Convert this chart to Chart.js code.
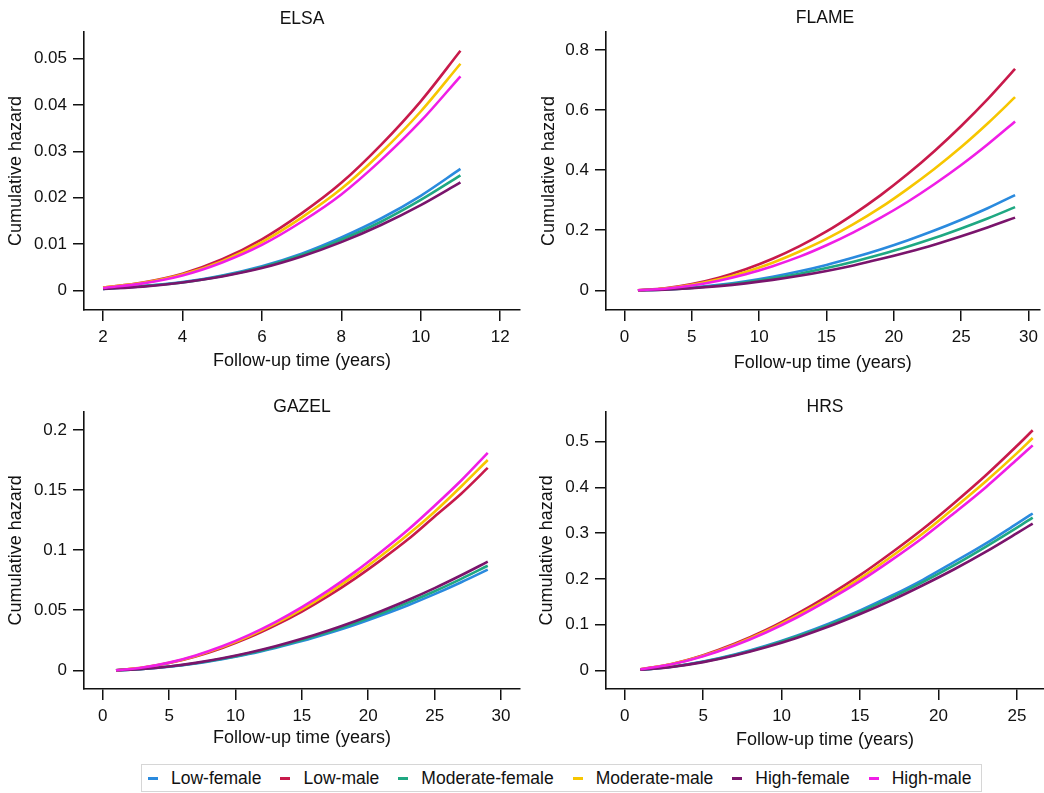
<!DOCTYPE html>
<html>
<head>
<meta charset="utf-8">
<title>Cumulative hazard by cohort</title>
<script src="https://cdn.jsdelivr.net/npm/chart.js@4.4.0/dist/chart.umd.min.js"></script>
<style>
	body { margin: 0; background: #fff; font-family: "Liberation Sans", Arial, sans-serif; }
	#page { position: relative; width: 1044px; height: 793px; overflow: hidden; background: #fff; }
	#page canvas { position: absolute; }
	.panel-title { position: absolute; font-size: 17.5px; line-height: 20px; text-align: center; color: #111; }
	#legend {
		position: absolute; left: 141px; top: 764px; width: 841px; height: 28px;
		box-sizing: border-box; border: 1px solid #d6d6d6;
		display: flex; align-items: center; padding-left: 6px;
		font-size: 17.5px; color: #111; white-space: nowrap;
	}
	.legend-item { display: flex; align-items: center; margin-right: 19px; }
	.legend-swatch { width: 10px; height: 3px; margin-right: 13px; }
</style>
</head>
<body>
<div id="page">
	<div id="legend"></div>
</div>
<script>
// 그룹 이름 / 색
const seriesNames = ['Low-female', 'Low-male', 'Moderate-female', 'Moderate-male', 'High-female', 'High-male'];
const seriesColors = ['#2a8ade', '#c81a4b', '#1fa882', '#f7c600', '#7a146c', '#f01ee6'];

// --- ELSA ---
const elsaTime = [2, 3, 4, 5, 6, 7, 8, 9, 10, 11];
const elsaLowFemale = [0.0003, 0.0009, 0.0018, 0.0032, 0.0052, 0.0079, 0.0114, 0.0155, 0.0204, 0.0262];
const elsaLowMale = [0.0006, 0.0017, 0.0036, 0.0067, 0.0110, 0.0166, 0.0232, 0.0314, 0.0408, 0.0517];
const elsaModFemale = [0.0003, 0.0009, 0.0017, 0.0031, 0.0050, 0.0076, 0.0109, 0.0148, 0.0195, 0.0248];
const elsaModMale = [0.0006, 0.0016, 0.0034, 0.0063, 0.0104, 0.0157, 0.0219, 0.0297, 0.0386, 0.0489];
const elsaHighFemale = [0.0003, 0.0008, 0.0017, 0.0030, 0.0048, 0.0073, 0.0104, 0.0141, 0.0184, 0.0233];
const elsaHighMale = [0.0005, 0.0015, 0.0032, 0.0060, 0.0098, 0.0148, 0.0207, 0.0281, 0.0365, 0.0462];
const elsaXTicks = [2, 4, 6, 8, 10, 12];
const elsaYTicks = [0, 0.01, 0.02, 0.03, 0.04, 0.05];

// --- FLAME ---
const flameTime = [1, 3, 5, 7, 9, 11, 13, 15, 17, 19, 21, 23, 25, 27, 29];
const flameLowFemale = [0, 0.0030, 0.0090, 0.0181, 0.0302, 0.0452, 0.0633, 0.0845, 0.109, 0.136, 0.166, 0.199, 0.235, 0.274, 0.317];
const flameLowMale = [0, 0.0070, 0.0210, 0.0421, 0.0702, 0.105, 0.147, 0.196, 0.253, 0.316, 0.386, 0.463, 0.547, 0.638, 0.737];
const flameModFemale = [0, 0.0026, 0.0079, 0.0158, 0.0264, 0.0396, 0.0554, 0.0739, 0.0950, 0.119, 0.145, 0.174, 0.206, 0.240, 0.277];
const flameModMale = [0, 0.0061, 0.0184, 0.0367, 0.0612, 0.0918, 0.129, 0.171, 0.220, 0.275, 0.337, 0.404, 0.477, 0.557, 0.643];
const flameHighFemale = [0, 0.0023, 0.0069, 0.0138, 0.0230, 0.0346, 0.0484, 0.0645, 0.0829, 0.104, 0.127, 0.152, 0.180, 0.210, 0.242];
const flameHighMale = [0, 0.0054, 0.0161, 0.0321, 0.0535, 0.0803, 0.112, 0.150, 0.193, 0.241, 0.294, 0.353, 0.417, 0.487, 0.562];
const flameXTicks = [0, 5, 10, 15, 20, 25, 30];
const flameYTicks = [0, 0.2, 0.4, 0.6, 0.8];

// --- GAZEL ---
const gazelTime = [1, 3, 5, 7, 9, 11, 13, 15, 17, 19, 21, 23, 25, 27, 29];
const gazelLowFemale = [0, 0.0011, 0.0030, 0.0057, 0.0093, 0.0135, 0.0186, 0.0243, 0.0308, 0.0379, 0.0458, 0.0542, 0.0634, 0.0733, 0.0838];
const gazelLowMale = [0, 0.0021, 0.0060, 0.0115, 0.0186, 0.0272, 0.0374, 0.0489, 0.0619, 0.0763, 0.0921, 0.109, 0.128, 0.147, 0.1685];
const gazelModFemale = [0, 0.0011, 0.0031, 0.0059, 0.0096, 0.0141, 0.0193, 0.0252, 0.0319, 0.0394, 0.0475, 0.0563, 0.0658, 0.0761, 0.0870];
const gazelModMale = [0, 0.0022, 0.0062, 0.0120, 0.0193, 0.0283, 0.0388, 0.0508, 0.0643, 0.0792, 0.0956, 0.113, 0.132, 0.153, 0.175];
const gazelHighFemale = [0, 0.0011, 0.0032, 0.0062, 0.0100, 0.0146, 0.0200, 0.0262, 0.0332, 0.0409, 0.0494, 0.0585, 0.0684, 0.0791, 0.0904];
const gazelHighMale = [0, 0.0023, 0.0064, 0.0124, 0.0200, 0.0293, 0.0401, 0.0525, 0.0665, 0.0819, 0.0989, 0.117, 0.137, 0.158, 0.181];
const gazelXTicks = [0, 5, 10, 15, 20, 25, 30];
const gazelYTicks = [0, 0.05, 0.1, 0.15, 0.2];

// --- HRS ---
const hrsTime = [1, 3, 5, 7, 9, 11, 13, 15, 17, 19, 21, 23, 25, 26];
const hrsLowFemale = [0.0011, 0.0078, 0.0192, 0.0345, 0.0537, 0.0763, 0.102, 0.131, 0.163, 0.198, 0.237, 0.277, 0.321, 0.343];
const hrsLowMale = [0.0022, 0.0139, 0.0329, 0.0579, 0.0882, 0.124, 0.164, 0.208, 0.257, 0.309, 0.366, 0.426, 0.491, 0.525];
const hrsModFemale = [0.0011, 0.0076, 0.0187, 0.0336, 0.0523, 0.0743, 0.0994, 0.128, 0.159, 0.193, 0.230, 0.270, 0.312, 0.334];
const hrsModMale = [0.0021, 0.0135, 0.0318, 0.0560, 0.0854, 0.120, 0.158, 0.201, 0.249, 0.299, 0.355, 0.413, 0.475, 0.508];
const hrsHighFemale = [0.0011, 0.0073, 0.0179, 0.0323, 0.0503, 0.0714, 0.0956, 0.123, 0.153, 0.186, 0.221, 0.259, 0.300, 0.321];
const hrsHighMale = [0.0021, 0.0131, 0.0308, 0.0543, 0.0828, 0.116, 0.154, 0.195, 0.241, 0.290, 0.344, 0.400, 0.461, 0.492];
const hrsXTicks = [0, 5, 10, 15, 20, 25];
const hrsYTicks = [0, 0.1, 0.2, 0.3, 0.4, 0.5];

const HazardPanels = {
	charts: {},

	// 패널 배치 (px) + 축 범위
	panels: [
		{ id: 'elsa', title: 'ELSA', left: 0, top: 0, width: 522, height: 380, chartTop: 32, chartBottom: 310, chartRight: 520, titleTop: 8,
			time: elsaTime, series: [elsaLowFemale, elsaLowMale, elsaModFemale, elsaModMale, elsaHighFemale, elsaHighMale],
			xTicks: elsaXTicks, yTicks: elsaYTicks, xMin: 1.52, xMax: 12.5, yMin: -0.00425, yMax: 0.05576, yTitlePad: 5.7, xTitlePad: 7.7 },
		{ id: 'flame', title: 'FLAME', left: 522, top: 0, width: 522, height: 380, chartTop: 32, chartBottom: 310, chartRight: 522, titleTop: 7,
			time: flameTime, series: [flameLowFemale, flameLowMale, flameModFemale, flameModMale, flameHighFemale, flameHighMale],
			xTicks: flameXTicks, yTicks: flameYTicks, xMin: -1.37, xMax: 30.8, yMin: -0.0656, yMax: 0.86, yTitlePad: 16.2, xTitlePad: 6.2 },
		{ id: 'gazel', title: 'GAZEL', left: 0, top: 390, width: 522, height: 370, chartTop: 21.7, chartBottom: 299, chartRight: 520, titleTop: 6,
			time: gazelTime, series: [gazelLowFemale, gazelLowMale, gazelModFemale, gazelModMale, gazelHighFemale, gazelHighMale],
			xTicks: gazelXTicks, yTicks: gazelYTicks, xMin: -1.41, xMax: 31.43, yMin: -0.01556, yMax: 0.21523, yTitlePad: 5.7, xTitlePad: 11 },
		{ id: 'hrs', title: 'HRS', left: 522, top: 390, width: 522, height: 370, chartTop: 21.7, chartBottom: 299, chartRight: 522, titleTop: 6,
			time: hrsTime, series: [hrsLowFemale, hrsLowMale, hrsModFemale, hrsModMale, hrsHighFemale, hrsHighMale],
			xTicks: hrsXTicks, yTicks: hrsYTicks, xMin: -1.19, xMax: 26.72, yMin: -0.0409, yMax: 0.5656, yTitlePad: 14.2, xTitlePad: 9.4 }
	],

	init: function() {
		const page = document.getElementById('page');

		this.panels.forEach(p => {
			const canvas = document.createElement('canvas');
			canvas.width = p.width;
			canvas.height = p.height;
			canvas.style.left = p.left + 'px';
			canvas.style.top = p.top + 'px';
			page.appendChild(canvas);

			// 패널 제목은 플롯 영역 가운데
			const title = document.createElement('div');
			title.className = 'panel-title';
			title.textContent = p.title;
			title.style.left = (p.left + 84) + 'px';
			title.style.width = (p.chartRight - 84) + 'px';
			title.style.top = (p.top + p.titleTop) + 'px';
			page.appendChild(title);

			this.charts[p.id] = new Chart(canvas, {
				type: 'line',
				data: { datasets: this.buildDatasets(p.time, p.series) },
				options: this.getChartOptions(p)
			});
		});

		this.renderLegend();
	},

	buildDatasets: function(time, series) {
		return series.map((values, i) => ({
			label: seriesNames[i],
			data: time.map((t, j) => ({ x: t, y: values[j] })),
			borderColor: seriesColors[i],
			backgroundColor: seriesColors[i],
			order: series.length - i // High-male 가 맨 위
		}));
	},

	getChartOptions: function(p) {
		const tickFont = { family: '"Liberation Sans", Arial, sans-serif', size: 17 };
		const titleFont = { family: '"Liberation Sans", Arial, sans-serif', size: 18 };
		const axisGrid = { display: true, drawOnChartArea: false, drawTicks: true, tickLength: 11, color: '#111', lineWidth: 1.5 };
		const axisBorder = { display: true, color: '#111', width: 1.6 };

		return {
			responsive: false,
			animation: false,
			layout: { padding: { top: p.chartTop, right: p.width - p.chartRight, left: 0, bottom: 0 } },
			elements: {
				point: { radius: 0 },
				line: { borderWidth: 2.6, cubicInterpolationMode: 'monotone' }
			},
			plugins: {
				legend: { display: false },
				tooltip: { enabled: false }
			},
			scales: {
				x: {
					type: 'linear',
					min: p.xMin,
					max: p.xMax,
					afterBuildTicks: s => { s.ticks = p.xTicks.map(v => ({ value: v })); },
					afterFit: s => { s.height = p.height - p.chartBottom; },
					grid: axisGrid,
					border: axisBorder,
					ticks: { padding: 6, color: '#111', font: tickFont, autoSkip: false, maxRotation: 0, callback: v => String(v) },
					title: { display: true, text: 'Follow-up time (years)', color: '#111', font: titleFont, padding: { top: 0, bottom: p.xTitlePad } }
				},
				y: {
					type: 'linear',
					min: p.yMin,
					max: p.yMax,
					afterBuildTicks: s => { s.ticks = p.yTicks.map(v => ({ value: v })); },
					afterFit: s => { s.width = 84; },
					grid: axisGrid,
					border: axisBorder,
					ticks: { padding: 6, color: '#111', font: tickFont, autoSkip: false, callback: v => String(v) },
					title: { display: true, text: 'Cumulative hazard', color: '#111', font: titleFont, padding: { top: p.yTitlePad, bottom: 0 } }
				}
			}
		};
	},

	// 공통 범례 (하단 박스)
	renderLegend: function() {
		const legend = document.getElementById('legend');
		legend.innerHTML = seriesNames.map((name, i) => `
			<div class="legend-item"><span class="legend-swatch" style="background:${seriesColors[i]}"></span>${name}</div>
		`).join('');
	}
};

HazardPanels.init();
</script>
</body>
</html>
